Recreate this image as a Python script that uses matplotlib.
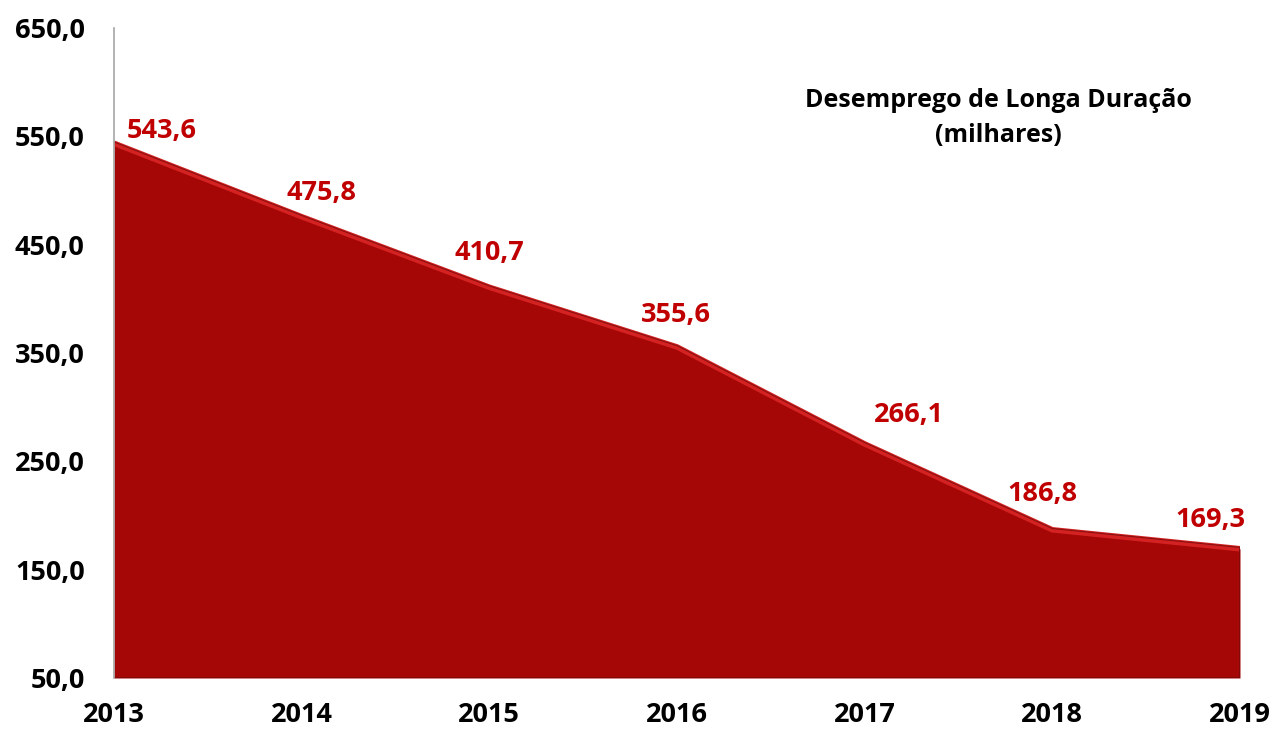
import matplotlib
matplotlib.use("Agg")
import matplotlib.pyplot as plt
from matplotlib.ticker import FuncFormatter

years = [2013, 2014, 2015, 2016, 2017, 2018, 2019]
values = [543.6, 475.8, 410.7, 355.6, 266.1, 186.8, 169.3]
labels = ["543,6", "475,8", "410,7", "355,6", "266,1", "186,8", "169,3"]
yticks = [50, 150, 250, 350, 450, 550, 650]
title = "Desemprego de Longa Duração\n(milhares)"

# label offsets in points (dx, dy)
label_offsets = [(34, 9), (14, 17), (0, 25), (-1, 23), (32, 21), (-7, 26), (-21, 21)]

FONT = "Open Sans"
plt.rcParams['font.family'] = [FONT, 'DejaVu Sans']

fig = plt.figure(figsize=(12.74, 7.31), dpi=100)
ax = fig.add_axes([114/1274, 1-678/731, (1240-114)/1274, (678-28)/731])

x = list(range(len(years)))
ax.fill_between(x, 50, values, color="#a50606", lw=0, zorder=2)
ax.plot(x, values, color="#d42222", lw=4, solid_capstyle="butt", zorder=3)
ax.plot(x, [v + 1.2 for v in values], color="#8a1010", lw=0.8, zorder=4)
ax.plot([x[-1], x[-1]], [50, values[-1]], color="#7a0a0a", lw=1.2, zorder=4)
ax.plot([x[0], x[-1]], [50, 50], color="#7a0a0a", lw=1.2, zorder=4)

ax.set_xlim(0, len(years) - 1)
ax.set_ylim(50, 650)
ax.set_yticks(yticks)
ax.yaxis.set_major_formatter(FuncFormatter(lambda v, p: f"{v:.1f}".replace(".", ",")))
ax.set_xticks(x)
ax.set_xticklabels([str(y) for y in years])

for side in ["top", "right", "bottom"]:
    ax.spines[side].set_visible(False)
ax.spines["left"].set_color("#a6a6a6")
ax.spines["left"].set_linewidth(1.2)
ax.spines["left"].set_zorder(5)

ax.tick_params(axis="both", length=0, labelsize=19.5, colors="black")
ax.tick_params(axis="y", pad=21)
ax.tick_params(axis="x", pad=17)
for lab in ax.get_xticklabels() + ax.get_yticklabels():
    lab.set_fontweight("bold")

for xi, v, t, (dx, dy) in zip(x, values, labels, label_offsets):
    ax.annotate(t, (xi, v), xytext=(dx, dy), textcoords="offset points",
                ha="center", va="center", color="#c00000", fontsize=19.5,
                fontweight="bold", zorder=6)

fig.text(998/1274, 1-118/731, title, ha="center", va="center", fontsize=18,
         fontweight="bold", color="black", linespacing=1.55)

fig.savefig("out.png", dpi=100)
